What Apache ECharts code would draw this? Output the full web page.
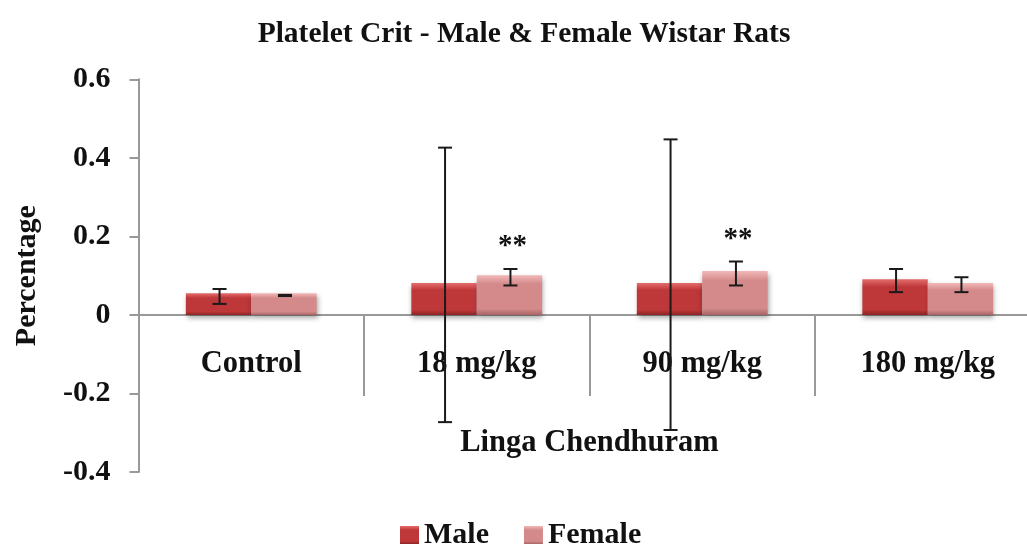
<!DOCTYPE html>
<html>
<head>
<meta charset="utf-8">
<script src="https://cdn.jsdelivr.net/npm/echarts@6/dist/echarts.min.js"></script>
<style>
html,body{margin:0;padding:0;background:#fff;}
#chart{width:1027px;height:544px;}
</style>
</head>
<body>
<div id="chart"></div>
<script>
// ---- data ----
const categories = ['Control', '18 mg/kg', '90 mg/kg', '180 mg/kg'];
const maleValues = [0.055, 0.081, 0.081, 0.091];
const femaleValues = [0.055, 0.101, 0.112, 0.081];
const maleErrLow = [0.028, -0.273, -0.293, 0.058];
const maleErrHigh = [0.066, 0.426, 0.447, 0.117];
const femaleErrLow = [0.048, 0.075, 0.075, 0.058];
const femaleErrHigh = [0.051, 0.117, 0.136, 0.096];
const femaleMarks = ['', '**', '**', ''];
const yTicks = [-0.4, -0.2, 0, 0.2, 0.4, 0.6];
const yMin = -0.4, yMax = 0.6, yStep = 0.2;

const FONT = '"Liberation Serif", "Times New Roman", serif';
const BAR_CAT_GAP = 0.42;
const GRID_TOP = 79.3, GRID_H = 392.7;
// distance from the bottom of the grid up to the zero line (x axis sits on zero)
const ZERO_OFFSET = GRID_H * (0 - yMin) / (yMax - yMin);

function grad(light, body, dark) {
  return new echarts.graphic.LinearGradient(0, 0, 0, 1, [
    {offset: 0, color: light},
    {offset: 0.22, color: body},
    {offset: 0.85, color: body},
    {offset: 1, color: dark}
  ]);
}
const maleFill = grad('#E56C6C', '#BE3739', '#8C2325');
const femaleFill = grad('#F2B8B8', '#D48A8B', '#A86465');

function errRender(lows, highs, side, marks) {
  return function (params, api) {
    const i = api.value(0);
    const band = api.size([1, 0])[0];
    const off = band * (1 - BAR_CAT_GAP) / 4 * side;
    const pHi = api.coord([i, highs[i]]);
    const pLo = api.coord([i, lows[i]]);
    const x = pHi[0] + off + 1;
    const cw = 7;
    const st = {stroke: '#1a1a1a', lineWidth: 2};
    const children = [
      {type: 'line', shape: {x1: x, y1: pHi[1], x2: x, y2: pLo[1]}, style: st},
      {type: 'line', shape: {x1: x - cw, y1: pHi[1], x2: x + cw, y2: pHi[1]}, style: st},
      {type: 'line', shape: {x1: x - cw, y1: pLo[1], x2: x + cw, y2: pLo[1]}, style: st}
    ];
    if (marks && marks[i]) {
      children.push({
        type: 'text',
        style: {
          text: marks[i], x: x + 2, y: pHi[1] - 22,
          align: 'center', verticalAlign: 'middle',
          font: 'bold 29px ' + FONT, fill: '#111'
        }
      });
    }
    return {type: 'group', children: children};
  };
}

const chart = echarts.init(document.getElementById('chart'), null, {renderer: 'canvas'});
chart.setOption({
  animation: false,
  backgroundColor: '#fff',
  title: {
    text: 'Platelet Crit - Male & Female Wistar Rats',
    left: 519, top: 14, textAlign: 'center',
    textStyle: {fontFamily: FONT, fontWeight: 'bold', fontSize: 29.5, color: '#111'}
  },
  legend: {
    left: 395, top: 515,
    itemWidth: 19, itemHeight: 18, itemGap: 35,
    icon: 'rect',
    data: ['Male', 'Female'],
    textStyle: {fontFamily: FONT, fontWeight: 'bold', fontSize: 30, color: '#111'}
  },
  grid: {left: 138.5, top: GRID_TOP, width: 902, height: GRID_H, containLabel: false, outerBoundsMode: 'none'},
  xAxis: {
    type: 'category',
    data: categories,
    offset: -ZERO_OFFSET,
    name: 'Linga Chendhuram',
    nameLocation: 'middle',
    nameGap: 113,
    nameTextStyle: {fontFamily: FONT, fontWeight: 'bold', fontSize: 30.5, color: '#111'},
    axisLine: {onZero: false, lineStyle: {color: '#999', width: 2}},
    axisTick: {show: true, length: 81, lineStyle: {color: '#999', width: 2}},
    axisLabel: {margin: 34, fontFamily: FONT, fontWeight: 'bold', fontSize: 30.5, color: '#111'},
    splitLine: {show: false}
  },
  yAxis: {
    type: 'value',
    min: yMin, max: yMax, interval: yStep,
    name: 'Percentage',
    nameLocation: 'middle',
    nameGap: 96,
    nameRotate: 90,
    nameTextStyle: {fontFamily: FONT, fontWeight: 'bold', fontSize: 30, color: '#111'},
    axisLine: {show: true, onZero: false, lineStyle: {color: '#999', width: 2}},
    axisTick: {show: true, length: 9, lineStyle: {color: '#999', width: 2}},
    axisLabel: {
      margin: 28, fontFamily: FONT, fontWeight: 'bold', fontSize: 30, color: '#111',
      formatter: function (v) {
        let best = yTicks[0];
        yTicks.forEach(t => { if (Math.abs(t - v) < Math.abs(best - v)) best = t; });
        return best === 0 ? '0' : String(best);
      }
    },
    splitLine: {show: false}
  },
  series: [
    {
      name: 'Male', type: 'bar', data: maleValues,
      barGap: '0%', barCategoryGap: (BAR_CAT_GAP * 100) + '%',
      itemStyle: {color: maleFill, shadowBlur: 5, shadowColor: 'rgba(0,0,0,0.35)', shadowOffsetY: 3, shadowOffsetX: 1}
    },
    {
      name: 'Female', type: 'bar', data: femaleValues,
      barGap: '0%', barCategoryGap: (BAR_CAT_GAP * 100) + '%',
      itemStyle: {color: femaleFill, shadowBlur: 5, shadowColor: 'rgba(0,0,0,0.35)', shadowOffsetY: 3, shadowOffsetX: 1}
    },
    {
      name: 'maleErr', type: 'custom', z: 5,
      data: categories.map((c, i) => [i]),
      renderItem: errRender(maleErrLow, maleErrHigh, -1, null),
      encode: {x: 0}, silent: true
    },
    {
      name: 'femaleErr', type: 'custom', z: 5,
      data: categories.map((c, i) => [i]),
      renderItem: errRender(femaleErrLow, femaleErrHigh, 1, femaleMarks),
      encode: {x: 0}, silent: true
    }
  ]
});
</script>
</body>
</html>
